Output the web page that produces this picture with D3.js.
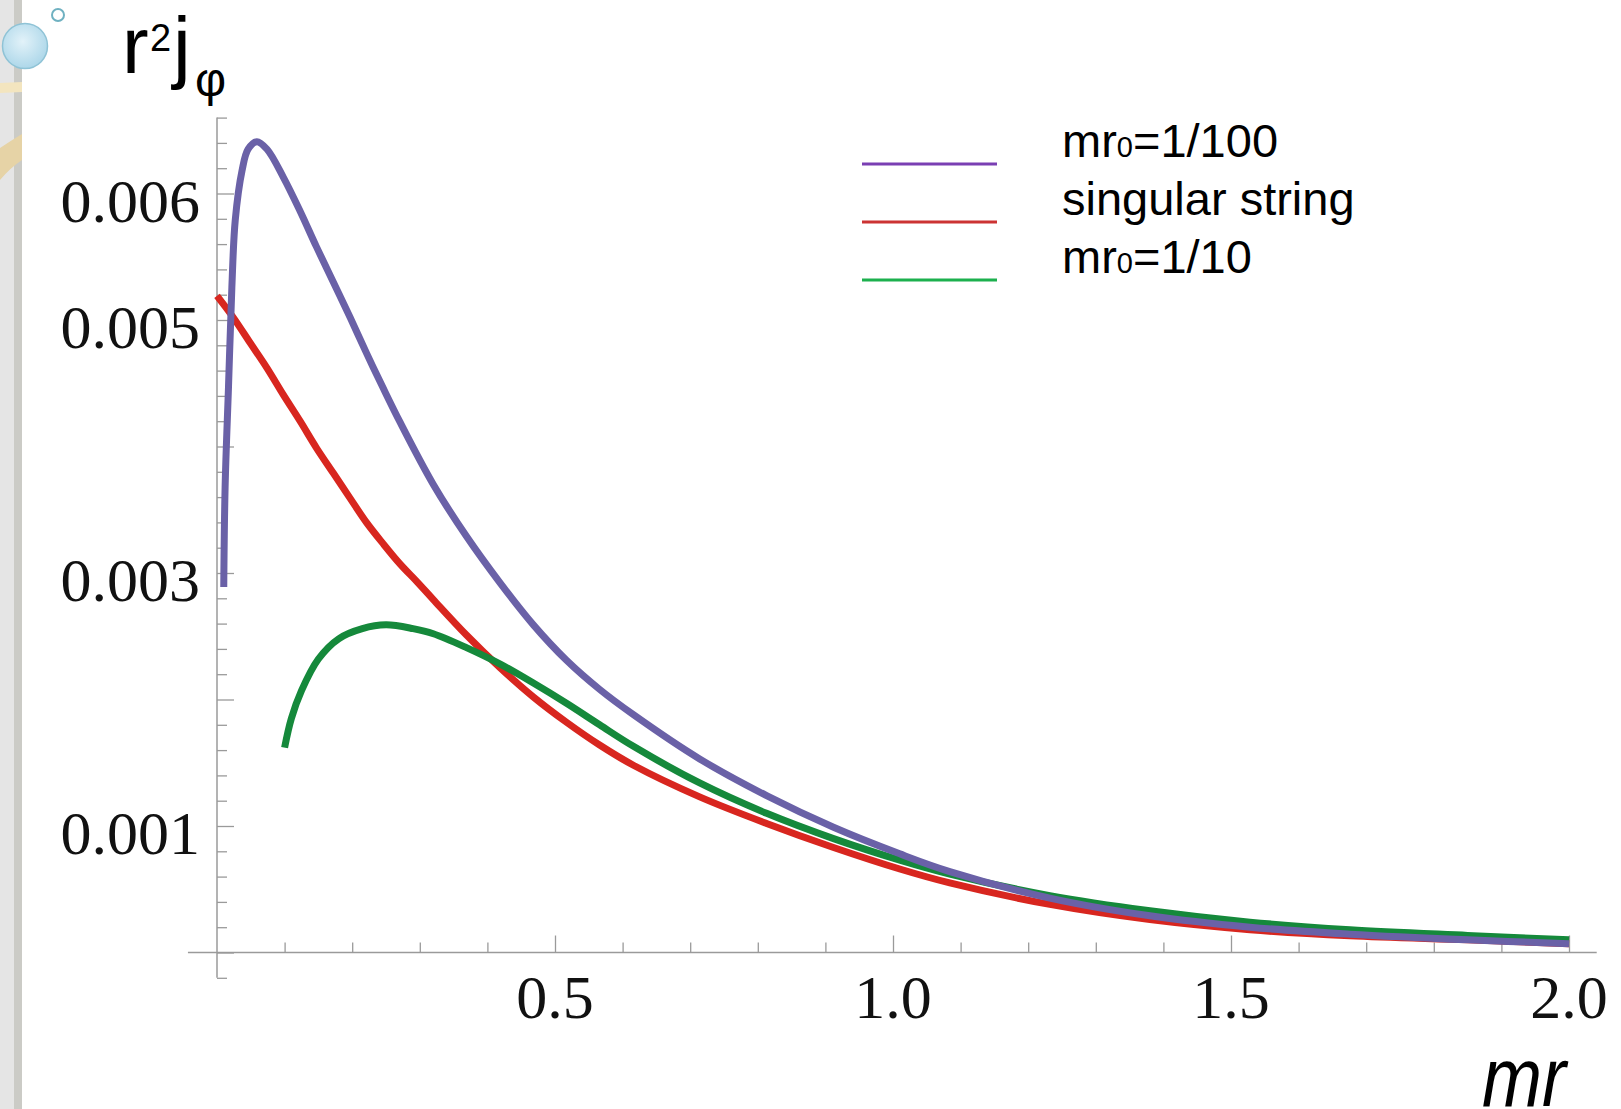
<!DOCTYPE html>
<html>
<head>
<meta charset="utf-8">
<script src="https://cdn.jsdelivr.net/npm/d3@7/dist/d3.min.js"></script>
<style>
  body { margin: 0; background: #fff; }
  svg { display: block; }
</style>
</head>
<body>
<div class="vis-current"></div>
<script>
// values (mr, r^2 j_phi)
const mr100R = [0.01, 0.012, 0.017, 0.022, 0.027, 0.037, 0.046, 0.059, 0.074, 0.098, 0.123, 0.147, 0.172, 0.197, 0.221, 0.246, 0.271, 0.32, 0.369, 0.419, 0.468, 0.517, 0.566, 0.616, 0.714, 0.813, 0.912, 1.01, 1.084, 1.232, 1.38, 1.528, 1.676, 1.85, 2.0];
const mr100V = [0.00289, 0.00368, 0.00447, 0.00526, 0.00579, 0.00618, 0.00635, 0.00641, 0.00635, 0.00613, 0.00586, 0.00558, 0.0053, 0.00502, 0.00474, 0.00446, 0.00419, 0.0037, 0.00329, 0.00292, 0.00259, 0.00231, 0.00208, 0.00188, 0.00153, 0.00124, 0.00099, 0.00078, 0.00064, 0.00043, 0.00029, 0.0002, 0.000145, 0.0001, 0.00007];

const stringR = [0, 0.024, 0.049, 0.074, 0.098, 0.123, 0.147, 0.172, 0.197, 0.221, 0.246, 0.271, 0.296, 0.32, 0.369, 0.419, 0.468, 0.517, 0.566, 0.616, 0.714, 0.813, 0.912, 1.01, 1.084, 1.232, 1.38, 1.528, 1.676, 1.85, 2.0];
const stringV = [0.00519, 0.00502, 0.00482, 0.00462, 0.00441, 0.0042, 0.00399, 0.00379, 0.00359, 0.0034, 0.00323, 0.00307, 0.00293, 0.00279, 0.00251, 0.00225, 0.00202, 0.00182, 0.00164, 0.00148, 0.00123, 0.00102, 0.00083, 0.00066, 0.00055, 0.00038, 0.00026, 0.00018, 0.000132, 0.0001, 0.00007];

const mr10R = [0.1, 0.11, 0.125, 0.15, 0.18, 0.215, 0.25, 0.29, 0.32, 0.369, 0.419, 0.468, 0.517, 0.566, 0.616, 0.714, 0.813, 0.912, 1.01, 1.084, 1.232, 1.38, 1.528, 1.676, 1.85, 2.0];
const mr10V = [0.00162, 0.00185, 0.00207, 0.00232, 0.00248, 0.00256, 0.00259, 0.00256, 0.00252, 0.00241, 0.00228, 0.00213, 0.00197, 0.0018, 0.00163, 0.00134, 0.0011, 0.0009, 0.00073, 0.00062, 0.00045, 0.00033, 0.00024, 0.00018, 0.000135, 0.0001];

const seriesNames = ['mr0=1/100', 'singular string', 'mr0=1/10'];
const xTickLabels = [0.5, 1.0, 1.5, 2.0];
const yTickLabels = [0.001, 0.003, 0.005, 0.006];

const W = 1621, H = 1109;

const svg = d3.select('.vis-current')
    .append('svg')
    .attr('width', W)
    .attr('height', H);

svg.append('rect').attr('width', W).attr('height', H).attr('fill', '#fff');

// slide theme bits on the left
const defs = svg.append('defs');
const grad = defs.append('radialGradient').attr('id', 'bubble').attr('cx', '45%').attr('cy', '40%').attr('r', '65%');
grad.append('stop').attr('offset', '0%').attr('stop-color', '#e2f2f9');
grad.append('stop').attr('offset', '100%').attr('stop-color', '#a9d5e8');

svg.append('rect').attr('x', 0).attr('y', 0).attr('width', 14).attr('height', H).attr('fill', '#e5e5e5');
svg.append('rect').attr('x', 14).attr('y', 0).attr('width', 8).attr('height', H).attr('fill', '#cbcbc6');
svg.append('path')
    .attr('d', 'M0,83 L22,82 L22,92 L0,93 Z')
    .attr('fill', '#f3e5bf');
svg.append('path')
    .attr('d', 'M0,148 Q12,140 22,134 L22,160 Q10,168 0,180 Z')
    .attr('fill', '#e6d3a6');
svg.append('circle').attr('cx', 25).attr('cy', 46).attr('r', 22.5)
    .attr('fill', 'url(#bubble)').attr('stroke', '#8fc3d6').attr('stroke-width', 1.5);
svg.append('circle').attr('cx', 58).attr('cy', 15).attr('r', 6)
    .attr('fill', '#fff').attr('stroke', '#6fb1c1').attr('stroke-width', 2);

// scales
const x = d3.scaleLinear().domain([0, 2]).range([217, 1569]);
const y = d3.scaleLinear().domain([0, 0.0066]).range([952.5, 117.6]);

const axisColor = '#9a9a9a';

// x axis
const xMinor = d3.range(1, 21).filter(i => i % 5 !== 0).map(i => i / 10);
const xMajor = d3.range(1, 5).map(i => i / 2);
svg.append('line')
    .attr('x1', x(-0.043)).attr('x2', x(2.041))
    .attr('y1', y(0)).attr('y2', y(0))
    .attr('stroke', axisColor).attr('stroke-width', 1.5);
svg.append('g')
    .attr('transform', 'translate(0,' + y(0) + ')')
    .call(d3.axisTop(x).tickValues(xMinor).tickSize(10).tickFormat(''))
    .call(g => g.select('.domain').remove());
svg.append('g')
    .attr('transform', 'translate(0,' + y(0) + ')')
    .call(d3.axisTop(x).tickValues(xMajor).tickSize(17).tickFormat(''))
    .call(g => g.select('.domain').remove());

// y axis
const yMinor = d3.range(-1, 34).filter(i => i % 5 !== 0).map(i => i * 0.0002);
const yMajor = d3.range(0, 7).map(i => i * 0.001);
svg.append('line')
    .attr('x1', x(0)).attr('x2', x(0))
    .attr('y1', y(0.0066)).attr('y2', y(-0.0002))
    .attr('stroke', axisColor).attr('stroke-width', 1.5);
svg.append('g')
    .attr('transform', 'translate(' + x(0) + ',0)')
    .call(d3.axisRight(y).tickValues(yMinor).tickSize(10).tickFormat(''))
    .call(g => g.select('.domain').remove());
svg.append('g')
    .attr('transform', 'translate(' + x(0) + ',0)')
    .call(d3.axisRight(y).tickValues(yMajor).tickSize(17).tickFormat(''))
    .call(g => g.select('.domain').remove());

svg.selectAll('.tick line').attr('stroke', axisColor).attr('stroke-width', 1.3);

// tick labels
svg.selectAll('.xlab')
    .data(xTickLabels)
    .enter()
    .append('text')
    .attr('class', 'xlab')
    .attr('x', d => x(d))
    .attr('y', 1018)
    .attr('text-anchor', 'middle')
    .attr('font-family', 'Liberation Serif, Times New Roman, serif')
    .attr('font-size', '62px')
    .attr('fill', '#111')
    .text(d => d.toFixed(1));

svg.selectAll('.ylab')
    .data(yTickLabels)
    .enter()
    .append('text')
    .attr('class', 'ylab')
    .attr('x', 200)
    .attr('y', d => y(d) + 28)
    .attr('text-anchor', 'end')
    .attr('font-family', 'Liberation Serif, Times New Roman, serif')
    .attr('font-size', '62px')
    .attr('fill', '#111')
    .text(d => d.toFixed(3));

// axis titles
const yTitle = svg.append('text')
    .attr('font-family', 'Liberation Sans, Arial, sans-serif')
    .attr('fill', '#000');
yTitle.append('tspan').attr('x', 122).attr('y', 73).attr('font-size', '80px').text('r');
yTitle.append('tspan').attr('x', 150).attr('y', 51).attr('font-size', '38px').text('2');
yTitle.append('tspan').attr('x', 173).attr('y', 73).attr('font-size', '80px').text('j');
yTitle.append('tspan').attr('x', 195).attr('y', 96).attr('font-size', '48px').text('φ');

svg.append('text')
    .attr('transform', 'translate(1482,1106) scale(1,1.17)')
    .attr('font-family', 'Liberation Sans, Arial, sans-serif')
    .attr('font-style', 'italic')
    .attr('font-size', '72px')
    .attr('fill', '#000')
    .text('mr');

// curves
const line = d3.line()
    .x(d => x(d[0]))
    .y(d => y(d[1]))
    .curve(d3.curveCatmullRom.alpha(0.5));

const curves = [
    { r: stringR, v: stringV, color: '#d8261f' },
    { r: mr10R, v: mr10V, color: '#15893b' },
    { r: mr100R, v: mr100V, color: '#6a61a7' }
];

svg.selectAll('.curve')
    .data(curves)
    .enter()
    .append('path')
    .attr('class', 'curve')
    .attr('d', d => line(d.r.map((r, i) => [r, d.v[i]])))
    .attr('fill', 'none')
    .attr('stroke', d => d.color)
    .attr('stroke-width', 7)
    .attr('stroke-linecap', 'butt')
    .attr('stroke-linejoin', 'round');

// legend
const legendColors = ['#7a3fb3', '#cc3333', '#1cb04e'];
const legendLineY = [164, 222, 280];
const legendTextY = [157, 215, 273];
const legend = svg.append('g');
seriesNames.forEach((name, i) => {
    legend.append('line')
        .attr('x1', 862).attr('x2', 997)
        .attr('y1', legendLineY[i]).attr('y2', legendLineY[i])
        .attr('stroke', legendColors[i])
        .attr('stroke-width', 3.2);
    const t = legend.append('text')
        .attr('x', 1062)
        .attr('y', legendTextY[i])
        .attr('font-family', 'Liberation Sans, Arial, sans-serif')
        .attr('font-size', '47px')
        .attr('fill', '#000');
    if (name.startsWith('mr0')) {
        t.append('tspan').text('mr');
        t.append('tspan').attr('font-size', '29px').text('0');
        t.append('tspan').text(name.slice(3));
    } else {
        t.text(name);
    }
});
</script>
</body>
</html>
